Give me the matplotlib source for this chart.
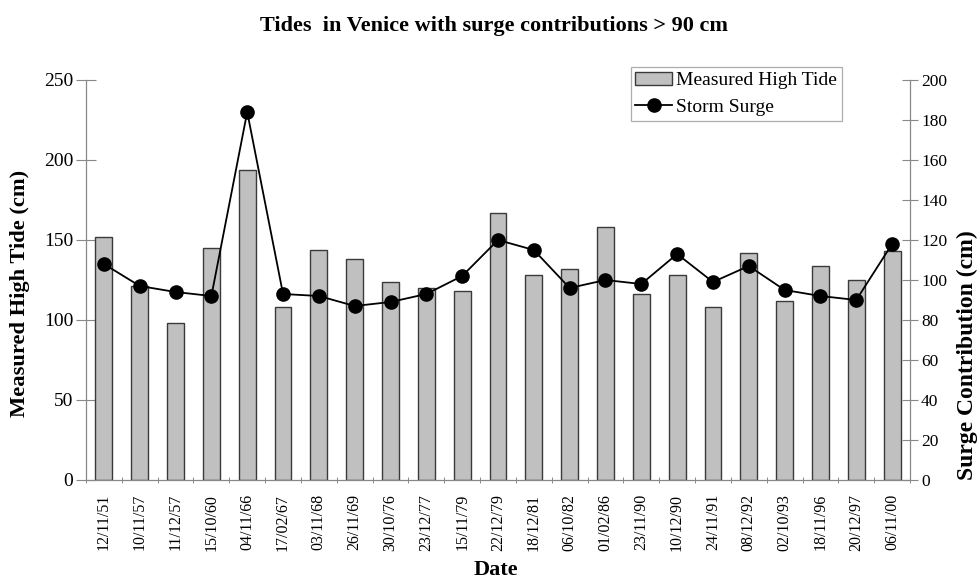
import matplotlib
matplotlib.use("Agg")
import matplotlib.pyplot as plt
import numpy as np

dates = ["12/11/51", "10/11/57", "11/12/57", "15/10/60", "04/11/66", "17/02/67",
         "03/11/68", "26/11/69", "30/10/76", "23/12/77", "15/11/79", "22/12/79",
         "18/12/81", "06/10/82", "01/02/86", "23/11/90", "10/12/90", "24/11/91",
         "08/12/92", "02/10/93", "18/11/96", "20/12/97", "06/11/00"]
high_tide = [152, 121, 98, 145, 194, 108, 144, 138, 124, 120, 118, 167,
             128, 132, 158, 116, 128, 108, 142, 112, 134, 125, 143]
storm_surge = [108, 97, 94, 92, 184, 93, 92, 87, 89, 93, 102, 120,
               115, 96, 100, 98, 113, 99, 107, 95, 92, 90, 118]

plt.rcParams['font.family'] = ['Liberation Serif', 'DejaVu Serif']

W, H = 977, 581
fig = plt.figure(figsize=(W / 100, H / 100), dpi=100)
ax = fig.add_axes([86 / W, 1 - 480 / H, 824 / W, 400 / H])
ax2 = ax.twinx()

x = np.arange(len(dates))
bars = ax.bar(x, high_tide, width=0.47, color='#c0c0c0', edgecolor='#3a3a3a',
              linewidth=1.0, label='Measured High Tide', zorder=2)
ax.set_xlim(-0.5, len(dates) - 0.5)
ax.set_ylim(0, 250)
ax.set_yticks(np.arange(0, 251, 50))
ax2.set_ylim(0, 200)
ax2.set_yticks(np.arange(0, 201, 20))

line, = ax2.plot(x, storm_surge, color='black', linewidth=1.3, marker='o',
                 markersize=9.5, markerfacecolor='black', label='Storm Surge', zorder=3)

ax.set_xticks(x)
ax.set_xticklabels(dates, rotation=90, fontsize=11.5)
ax.set_xticks(np.arange(-0.5, len(dates), 1), minor=True)
ax.tick_params(axis='x', which='major', length=0, pad=10)
ax.tick_params(axis='x', which='minor', length=5, direction='inout', color='#777777')

for a in (ax, ax2):
    a.spines['top'].set_visible(False)
    for s in ('left', 'right', 'bottom'):
        a.spines[s].set_color('#888888')
        a.spines[s].set_linewidth(0.9)
ax.spines['right'].set_visible(False)
ax2.spines['left'].set_visible(False)
ax2.spines['bottom'].set_visible(False)

ax.tick_params(axis='y', direction='inout', length=14, color='#888888', labelsize=14, pad=2)
ax2.tick_params(axis='y', direction='inout', length=12, color='#888888', labelsize=12.5, pad=2)

fig.text(20 / W, 1 - 293 / H, 'Measured High Tide (cm)', rotation=90, ha='center',
         va='center', fontsize=16.2, fontweight='bold')
fig.text(967 / W, 1 - 355 / H, 'Surge Contribution (cm)', rotation=90, ha='center',
         va='center', fontsize=17, fontweight='bold')
fig.text(496 / W, 1 - 570 / H, 'Date', ha='center', va='center', fontsize=16,
         fontweight='bold')
fig.text(494 / W, 1 - 26 / H, 'Tides  in Venice with surge contributions > 90 cm',
         ha='center', va='center', fontsize=16, fontweight='bold')

leg = ax2.legend([bars, line], ['Measured High Tide', 'Storm Surge'], loc='upper right',
                 bbox_to_anchor=((842 - 86) / 824, (480 - 67) / 400), borderaxespad=0,
                 fontsize=14, frameon=True, fancybox=False, edgecolor='#999999',
                 borderpad=0.25, handlelength=1.9, handletextpad=0.2, labelspacing=0.45)
leg.get_frame().set_linewidth(0.9)

fig.savefig('out.png', dpi=100)
